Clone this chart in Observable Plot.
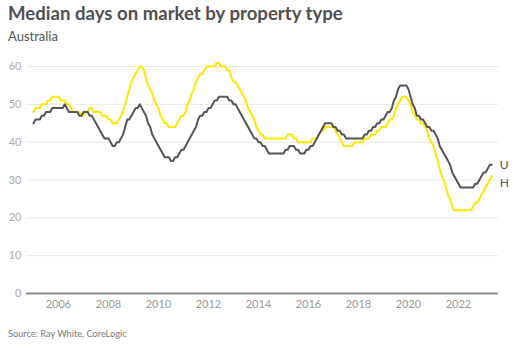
<!DOCTYPE html>
<html>
<head>
<meta charset="utf-8">
<script src="https://cdn.jsdelivr.net/npm/d3@7"></script>
<script src="https://cdn.jsdelivr.net/npm/@observablehq/plot@0.6"></script>
<style>
  html, body { margin: 0; padding: 0; background: #fff; }
  body { width: 514px; height: 352px; position: relative; overflow: hidden; font-family: Lato, "Noto Sans", sans-serif; }
  #title { position: absolute; left: 8px; top: 4px; font: 700 18.6px/1 Lato, sans-serif; color: #505050; white-space: nowrap; }
  #subtitle { position: absolute; left: 8px; top: 30px; font: 400 13px/1 Lato, sans-serif; color: #555; white-space: nowrap; }
  #chart { position: absolute; left: 0; top: 48px; }
  #source { position: absolute; left: 8px; top: 329px; font: 400 9.2px/1 Lato, sans-serif; color: #777; white-space: nowrap; }
</style>
</head>
<body>
<div id="title">Median days on market by property type</div>
<div id="subtitle">Australia</div>
<div id="chart"></div>
<div id="source">Source: Ray White, CoreLogic</div>
<script>
// Monthly series, Jan 2005 – May 2023
const startYear = 2005;
const housesDays = [
  48,49,49,49,50,50,50,51,51,52,52,52, // 2005
  52,51,51,51,50,50,49,48,48,48,48,47, // 2006
  47,48,48,49,49,48,48,48,48,47,47,47, // 2007
  46,46,45,45,45,46,47,48,50,52,54,56, // 2008
  57,58,59,60,60,59,57,55,54,53,51,50, // 2009
  49,47,46,45,45,44,44,44,44,45,46,47, // 2010
  47,48,50,51,53,54,56,57,58,58,59,60, // 2011
  60,60,60,60,61,61,60,60,60,59,59,57, // 2012
  56,56,55,54,53,52,51,49,48,47,46,44, // 2013
  43,42,42,41,41,41,41,41,41,41,41,41, // 2014
  41,41,42,42,42,41,41,40,40,40,40,40, // 2015
  40,40,41,41,41,42,43,43,44,44,44,44, // 2016
  44,43,42,41,40,39,39,39,39,39,40,40, // 2017
  40,40,40,41,41,41,42,42,42,43,43,44, // 2018
  44,44,45,46,46,47,49,50,51,52,52,52, // 2019
  51,50,48,47,46,46,45,45,44,43,41,40, // 2020
  39,37,35,33,31,30,28,26,25,23,22,22, // 2021
  22,22,22,22,22,22,22,23,24,24,25,26, // 2022
  27,28,29,30,31                       // 2023
];
const unitsDays = [
  45,46,46,46,47,47,48,48,48,49,49,49, // 2005
  49,49,49,50,49,48,48,48,48,48,47,47, // 2006
  48,48,48,47,47,46,45,44,43,42,41,41, // 2007
  41,40,39,39,40,40,41,42,44,46,46,47, // 2008
  48,49,49,50,49,48,47,45,44,42,41,40, // 2009
  39,38,37,36,36,36,35,35,36,36,37,38, // 2010
  38,39,40,41,42,43,44,46,47,47,48,48, // 2011
  49,49,50,51,51,52,52,52,52,52,51,51, // 2012
  50,50,49,48,47,46,45,44,43,42,41,41, // 2013
  40,40,39,39,38,37,37,37,37,37,37,37, // 2014
  37,38,38,39,39,39,38,38,37,37,37,38, // 2015
  38,39,39,40,41,42,43,44,45,45,45,45, // 2016
  44,44,43,43,42,42,41,41,41,41,41,41, // 2017
  41,41,41,42,42,43,43,44,44,45,45,46, // 2018
  46,47,48,48,49,51,52,54,55,55,55,55, // 2019
  54,52,50,49,47,47,46,46,45,44,44,43, // 2020
  43,42,41,39,38,37,36,35,34,32,31,30, // 2021
  29,28,28,28,28,28,28,28,29,29,30,31, // 2022
  32,32,33,34,34                       // 2023
];
const seriesNames = ["Houses", "Units"];
const seriesLabels = ["H", "U"];
const seriesColors = ["#ffe600", "#555555"];
const yTicks = [0, 10, 20, 30, 40, 50, 60];
const xTicks = [2006, 2008, 2010, 2012, 2014, 2016, 2018, 2020, 2022];

const toRows = (vals, name) => vals.map((v, i) => ({ t: startYear + i / 12, v, name }));
const houses = toRows(housesDays, seriesNames[0]);
const units = toRows(unitsDays, seriesNames[1]);
const lastH = houses[houses.length - 1];
const lastU = units[units.length - 1];

const chart = Plot.plot({
  width: 514,
  height: 272,
  marginLeft: 26,
  marginRight: 16,
  marginTop: 18,
  marginBottom: 27,
  style: { fontFamily: "Lato, sans-serif", fontSize: "11px", color: "#999", background: "transparent" },
  x: { domain: [2004.72, 2023.6], ticks: xTicks, tickFormat: d => String(d), tickSize: 0, tickPadding: 7, label: null },
  y: { domain: [0, 60], ticks: yTicks, tickSize: 0, tickPadding: 5, label: null },
  marks: [
    Plot.gridY(yTicks.filter(d => d > 0), { stroke: "#e8e8e8", strokeOpacity: 1, strokeWidth: 1 }),
    Plot.axisX({ ticks: xTicks, tickFormat: d => String(d), tickSize: 0, tickPadding: 7, fill: "#999", fontSize: 11, label: null }),
    Plot.axisY({ ticks: yTicks, tickSize: 0, tickPadding: 5, fill: "#aaa", fontSize: 11, label: null }),
    Plot.line(houses, { x: "t", y: "v", stroke: seriesColors[0], strokeWidth: 2 }),
    Plot.line(units, { x: "t", y: "v", stroke: seriesColors[1], strokeWidth: 2 }),
    Plot.ruleY([0], { stroke: "#8c8c8c", strokeWidth: 2 }),
    Plot.text([lastU], { x: "t", y: "v", text: () => seriesLabels[1], dx: 8, dy: 0, textAnchor: "start", fill: "#555", fontSize: 12 }),
    Plot.text([lastH], { x: "t", y: "v", text: () => seriesLabels[0], dx: 8, dy: 7, textAnchor: "start", fill: "#555", fontSize: 12 })
  ]
});
document.getElementById("chart").appendChild(chart);
</script>
</body>
</html>
